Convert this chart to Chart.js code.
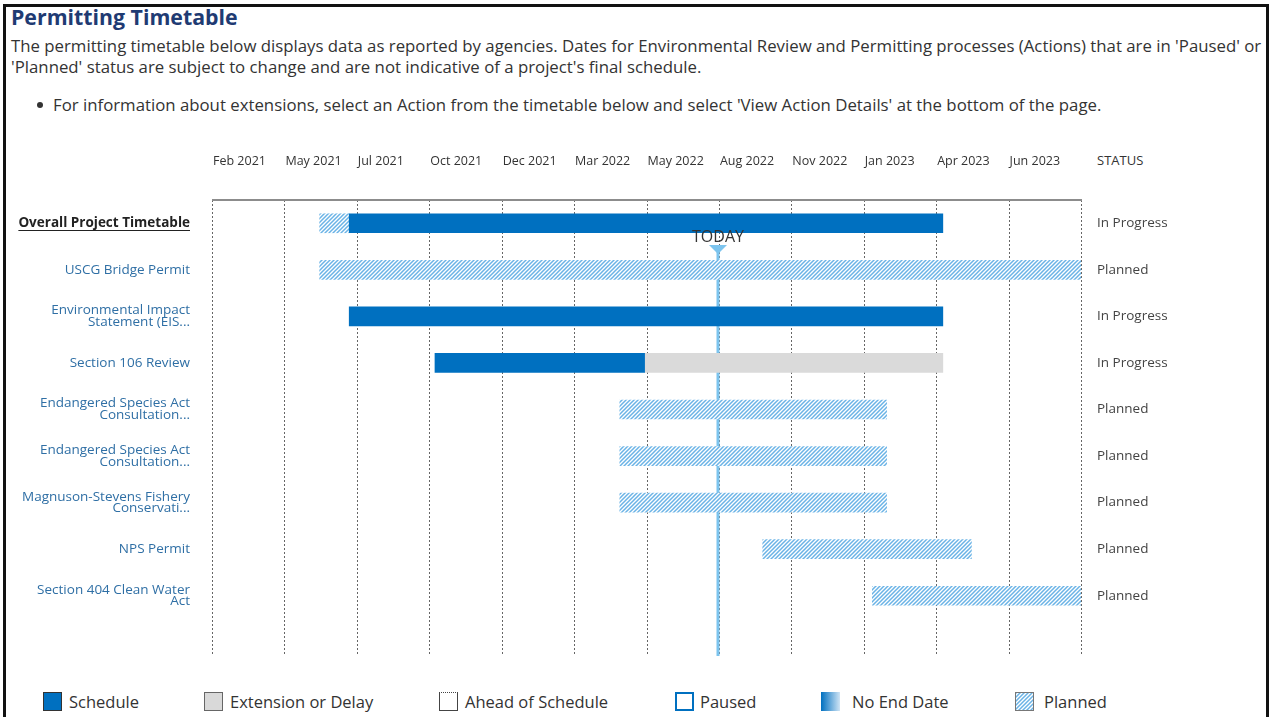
<!DOCTYPE html>
<html>
<head>
<meta charset="utf-8">
<script src="https://cdn.jsdelivr.net/npm/chart.js@4.4.1/dist/chart.umd.min.js"></script>
<style>
  body { margin: 0; background: #fff; font-family: "Open Sans", sans-serif; color: #333; }
  #page { position: relative; width: 1273px; height: 717px; overflow: hidden; }
  #frame { position: absolute; left: 3px; top: 4px; width: 1260px; height: 760px; border: 3px solid #111; }
  h1 { position: absolute; left: 11px; top: 2px; margin: 0; font-size: 21.3px; font-weight: bold; color: #1f3b73; }
  .intro { position: absolute; left: 11px; top: 35px; margin: 0; font-size: 16.8px; line-height: 21px; white-space: nowrap; }
  .bullet { position: absolute; left: 37px; top: 93px; font-size: 16.8px; white-space: nowrap; }
  .bullet span.dot { display: inline-block; width: 6px; height: 6px; border-radius: 50%; background: #333; margin: 0 10px 3px 0; }
  #status { position: absolute; left: 1097px; top: 151px; font-size: 13px; color: #333; }
  #chartBox { position: absolute; left: 0; top: 130px; }
  .legend { position: absolute; top: 690px; font-size: 16.5px; color: #333; white-space: nowrap; }
  .legend i { position: absolute; top: 2px; width: 19px; height: 19px; box-sizing: border-box; }
  .legend b { position: absolute; top: 0; font-weight: normal; }
</style>
</head>
<body>
<div id="page">
  <div id="frame"></div>
  <h1>Permitting Timetable</h1>
  <p class="intro">The permitting timetable below displays data as reported by agencies. Dates for Environmental Review and Permitting processes (Actions) that are in 'Paused' or<br>'Planned' status are subject to change and are not indicative of a project's final schedule.</p>
  <div class="bullet"><span class="dot"></span>For information about extensions, select an Action from the timetable below and select 'View Action Details' at the bottom of the page.</div>
  <div id="status">STATUS</div>
  <div id="chartBox"><canvas id="timeline" width="1273" height="540"></canvas></div>

  <div class="legend" style="left:0">
    <i style="left:43px;background:#0070c0;border:1px solid #333"></i><b style="left:69px">Schedule</b>
    <i style="left:204px;background:#d9d9d9;border:1px solid #666"></i><b style="left:230px">Extension or Delay</b>
    <i style="left:439px;background:#fff;border:1px solid #444;border-top:1px dotted #444"></i><b style="left:465px">Ahead of Schedule</b>
    <i style="left:675px;background:#fff;border:2px solid #0070c0"></i><b style="left:700px">Paused</b>
    <i style="left:821px;background:linear-gradient(90deg,#0070c0,#cfe4f5)"></i><b style="left:852px">No End Date</b>
    <i id="plannedKey" style="left:1015px;border:1px solid #777"></i><b style="left:1044px">Planned</b>
  </div>
</div>

<script>
// rows, top to bottom
const rowLabels = [
  'Overall Project Timetable',
  'USCG Bridge Permit',
  ['Environmental Impact', 'Statement (EIS...'],
  'Section 106 Review',
  ['Endangered Species Act', 'Consultation...'],
  ['Endangered Species Act', 'Consultation...'],
  ['Magnuson-Stevens Fishery', 'Conservati...'],
  'NPS Permit',
  ['Section 404 Clean Water', 'Act']
];
const statuses = ['In Progress', 'Planned', 'In Progress', 'In Progress', 'Planned', 'Planned', 'Planned', 'Planned', 'Planned'];

// top axis: 12 equal steps of 76 days, each labelled at its left grid line
const axisStart = '2021-02-15';
const stepDays = 76;
const tickLabels = ['Feb 2021', 'May 2021', 'Jul 2021', 'Oct 2021', 'Dec 2021', 'Mar 2022',
                    'May 2022', 'Aug 2022', 'Nov 2022', 'Jan 2023', 'Apr 2023', 'Jun 2023'];
const todayDate = '2022-07-31';

// [start, end] per row, null = nothing of that kind
const scheduleBars = [
  ['2021-07-09', '2023-03-24'], null, ['2021-07-09', '2023-03-24'], ['2021-10-07', '2022-05-15'],
  null, null, null, null, null
];
const delayBars = [null, null, null, ['2022-05-15', '2023-03-24'], null, null, null, null, null];
const plannedBars = [
  ['2021-06-08', '2021-07-09'], ['2021-06-08', '2023-08-16'], null, null,
  ['2022-04-19', '2023-01-24'], ['2022-04-19', '2023-01-24'], ['2022-04-19', '2023-01-24'],
  ['2022-09-16', '2023-04-23'], ['2023-01-09', '2023-08-16']
];

const day = s => Date.parse(s) / 864e5;
const toDays = arr => arr.map(b => b ? b.map(day) : null);

function hatch() {
  const c = document.createElement('canvas');
  c.width = 4; c.height = 4;
  const g = c.getContext('2d');
  g.fillStyle = '#fff';
  g.fillRect(0, 0, 4, 4);
  g.strokeStyle = '#6ab3e6';
  g.lineWidth = 1.5;
  g.beginPath();
  g.moveTo(0, 4); g.lineTo(4, 0);
  g.moveTo(-1, 1); g.lineTo(1, -1);
  g.moveTo(3, 5); g.lineTo(5, 3);
  g.stroke();
  return c;
}
const hatchTile = hatch();
document.getElementById('plannedKey').style.background = 'url(' + hatchTile.toDataURL() + ')';

const FONT = '"Open Sans", sans-serif';
const LABEL_PAD = 22;
const TODAY_BLUE = '#7cc4ee';
const start = day(axisStart);

const timelinePlugin = {
  id: 'timeline',
  beforeDatasetsDraw(chart) {
    const { ctx, chartArea: a, scales: { x } } = chart;
    const bottom = a.bottom + 37;
    ctx.save();
    // dotted grid lines, reaching below the last row
    ctx.strokeStyle = '#666';
    ctx.lineWidth = 1;
    ctx.setLineDash([2, 2]);
    x.ticks.forEach(t => {
      const px = Math.round(x.getPixelForValue(t.value)) + 0.5;
      ctx.beginPath(); ctx.moveTo(px, a.top); ctx.lineTo(px, bottom); ctx.stroke();
    });
    ctx.setLineDash([]);
    ctx.strokeStyle = '#8c8c8c';
    ctx.lineWidth = 2;
    ctx.beginPath(); ctx.moveTo(a.left, a.top); ctx.lineTo(a.right + 1, a.top); ctx.stroke();

    // today line runs behind the bars
    const tx = Math.round(x.getPixelForValue(day(todayDate)));
    ctx.strokeStyle = TODAY_BLUE;
    ctx.lineWidth = 3;
    ctx.beginPath(); ctx.moveTo(tx, a.top + 48); ctx.lineTo(tx, bottom); ctx.stroke();
    ctx.restore();
  },
  afterDatasetsDraw(chart) {
    const { ctx, chartArea: a, scales: { x } } = chart;
    const tx = Math.round(x.getPixelForValue(day(todayDate)));
    ctx.save();
    ctx.fillStyle = TODAY_BLUE;
    ctx.beginPath();
    ctx.moveTo(tx - 9, a.top + 45); ctx.lineTo(tx + 9, a.top + 45); ctx.lineTo(tx, a.top + 54);
    ctx.closePath(); ctx.fill();
    ctx.fillStyle = '#333';
    ctx.font = '16px ' + FONT;
    ctx.textAlign = 'center';
    ctx.textBaseline = 'middle';
    ctx.fillText('TODAY', tx, a.top + 37);
    ctx.restore();
  },
  afterDraw(chart) {
    // underline the overall row label
    const { ctx, chartArea: a, scales: { y } } = chart;
    ctx.save();
    ctx.font = 'bold 13.5px ' + FONT;
    const w = ctx.measureText(rowLabels[0]).width;
    const yy = Math.round(y.getPixelForTick(0)) + 7.5;
    const xr = a.left - LABEL_PAD;
    ctx.strokeStyle = '#222';
    ctx.lineWidth = 1;
    ctx.beginPath(); ctx.moveTo(xr - w, yy); ctx.lineTo(xr, yy); ctx.stroke();
    ctx.restore();
  }
};

const ctx = document.getElementById('timeline').getContext('2d');
const planFill = ctx.createPattern(hatchTile, 'repeat');

new Chart(ctx, {
  type: 'bar',
  data: {
    labels: rowLabels,
    datasets: [
      { label: 'Schedule', data: toDays(scheduleBars), backgroundColor: '#0070c0', grouped: false, barThickness: 19 },
      { label: 'Extension or Delay', data: toDays(delayBars), backgroundColor: '#dadada', grouped: false, barThickness: 19 },
      { label: 'Planned', data: toDays(plannedBars), backgroundColor: planFill, grouped: false, barThickness: 19 }
    ]
  },
  options: {
    indexAxis: 'y',
    responsive: false,
    devicePixelRatio: 1,
    animation: false,
    layout: { padding: { top: 0, bottom: 51, left: 0, right: 0 } },
    plugins: { legend: { display: false }, tooltip: { enabled: false } },
    scales: {
      x: {
        type: 'linear',
        position: 'top',
        min: start,
        max: start + stepDays * tickLabels.length,
        grid: { display: false, drawTicks: false },
        border: { display: false },
        afterFit: s => { s.height = 70; },
        ticks: {
          stepSize: stepDays,
          autoSkip: false,
          maxRotation: 0,
          align: 'start',
          padding: 31,
          labelOffset: 1,
          color: '#333',
          font: { family: FONT, size: 12.5 },
          callback: (v, i) => tickLabels[i] || ''
        }
      },
      y: {
        grid: { display: false, drawTicks: false },
        border: { display: false },
        afterFit: s => { s.width = 212; },
        ticks: {
          padding: LABEL_PAD,
          autoSkip: false,
          color: c => c.index === 0 ? '#222' : '#2f6fa5',
          font: c => ({ family: FONT, size: 13.5, weight: c.index === 0 ? 'bold' : 'normal', lineHeight: 0.87 })
        }
      },
      y2: {
        type: 'category',
        labels: statuses,
        position: 'right',
        offset: true,
        grid: { display: false, drawTicks: false },
        border: { display: false },
        afterFit: s => { s.width = 192; },
        ticks: { padding: 16, autoSkip: false, color: '#444', font: { family: FONT, size: 13.5 } }
      }
    }
  },
  plugins: [timelinePlugin]
});
</script>
</body>
</html>
